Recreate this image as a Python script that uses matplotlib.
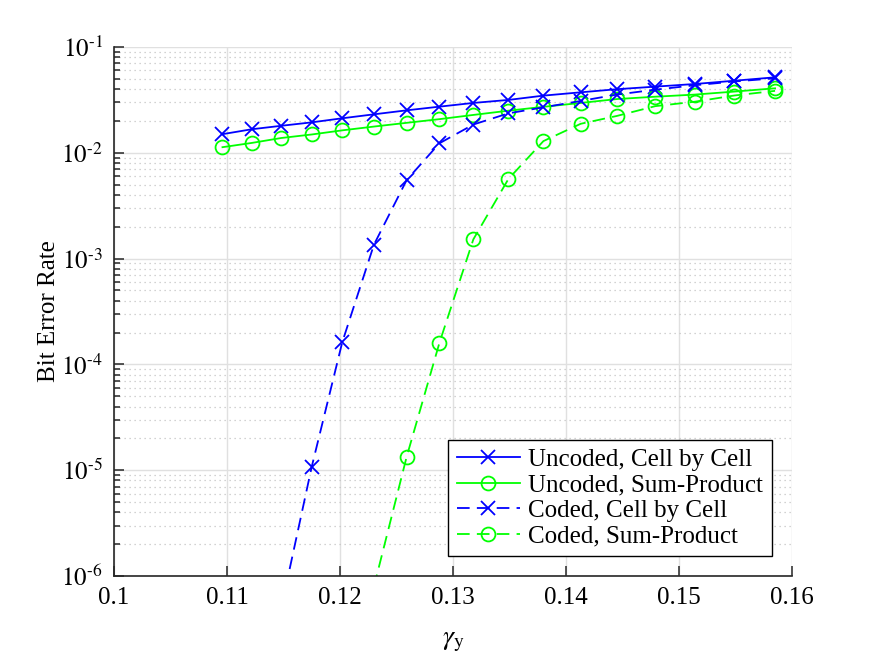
import matplotlib
matplotlib.use("Agg")
import matplotlib.pyplot as plt
from matplotlib.ticker import FuncFormatter
import numpy as np

plt.rcParams['font.family'] = ['Liberation Serif', 'DejaVu Serif']
plt.rcParams['mathtext.fontset'] = 'stix'
plt.rcParams['axes.unicode_minus'] = False

# gamma_y values (x axis)
gamma_y = [0.1096, 0.1122, 0.1148, 0.1175, 0.1202, 0.1230, 0.1259, 0.1288, 0.1318,
           0.1349, 0.1380, 0.1413, 0.1445, 0.1479, 0.1514, 0.1549, 0.1585]

# bit error rates (nan = below plotted range / not shown)
uncoded_cbc = [0.0150, 0.0167, 0.0180, 0.0194, 0.0212, 0.0231, 0.0252, 0.0273, 0.0296,
               0.0316, 0.0347, 0.0373, 0.0399, 0.0422, 0.0447, 0.0480, 0.0517]
uncoded_sp = [0.0113, 0.0124, 0.0138, 0.0149, 0.0163, 0.0177, 0.0192, 0.0208, 0.0228,
              0.0250, 0.0272, 0.0296, 0.0322, 0.0339, 0.0355, 0.0379, 0.0407]
coded_cbc = [np.nan, np.nan, 5.0e-7, 1.08e-5, 1.62e-4, 1.35e-3, 5.53e-3, 1.23e-2, 1.85e-2,
             2.36e-2, 2.69e-2, 3.09e-2, 3.55e-2, 3.95e-2, 4.35e-2, 4.72e-2, 5.06e-2]
coded_sp = [np.nan, np.nan, np.nan, np.nan, np.nan, 7.9e-7, 1.34e-5, 1.60e-4, 1.52e-3,
            5.65e-3, 1.29e-2, 1.88e-2, 2.23e-2, 2.76e-2, 3.04e-2, 3.48e-2, 3.85e-2]

labels = ['Uncoded, Cell by Cell', 'Uncoded, Sum-Product',
          'Coded, Cell by Cell', 'Coded, Sum-Product']

fig = plt.figure(figsize=(8.75, 6.57), dpi=100)
ax = fig.add_axes([114 / 875, 1 - 576 / 657, 678 / 875, 529 / 657])

dash = (0, (7, 4))
ax.semilogy(gamma_y, uncoded_cbc, color='#0000ff', ls='-', marker='x', ms=10, mew=1.3, lw=1.3, label=labels[0])
ax.semilogy(gamma_y, uncoded_sp, color='#00ff00', ls='-', marker='o', ms=10, mew=1.3, lw=1.3,
            mfc='none', label=labels[1])
ax.semilogy(gamma_y, coded_cbc, color='#0000ff', ls=dash, marker='x', ms=10, mew=1.3, lw=1.3, label=labels[2])
ax.semilogy(gamma_y, coded_sp, color='#00ff00', ls=dash, marker='o', ms=10, mew=1.3, lw=1.3,
            mfc='none', label=labels[3])

ax.set_xlim(0.1, 0.16)
ax.set_ylim(1e-6, 1e-1)
xt = [0.1, 0.11, 0.12, 0.13, 0.14, 0.15, 0.16]
ax.set_xticks(xt)
ax.set_xticklabels(['%g' % v for v in xt])
ax.yaxis.set_major_formatter(FuncFormatter(
    lambda v, p: r'$10^{\text{-}%d}$' % round(-np.log10(v))))

ax.set_axisbelow(True)
ax.grid(True, which='major', color='#e0e0e0', lw=1.0)
ax.yaxis.grid(True, which='minor', color='#c4c4c4', ls=(0, (1, 3)), lw=0.9)

for s in ['top', 'right']:
    ax.spines[s].set_visible(False)
for s in ['left', 'bottom']:
    ax.spines[s].set_color('#262626')
    ax.spines[s].set_linewidth(1.2)

ax.tick_params(which='both', direction='in', colors='#262626', labelcolor='black', width=1.1)
ax.tick_params(which='major', length=7, labelsize=18, pad=8)
ax.tick_params(which='minor', length=4)
ax.tick_params(axis='x', which='minor', bottom=False)

ax.set_xlabel(r'$\gamma_{\rm y}$', fontsize=20, labelpad=14)
ax.set_ylabel('Bit Error Rate', fontsize=18, labelpad=1)

leg = ax.legend(loc='lower right', fontsize=18, fancybox=False, edgecolor='black',
                framealpha=1, borderaxespad=0.8, handlelength=2.5, handletextpad=0.35,
                labelspacing=0.12, borderpad=0.35)
leg.get_frame().set_linewidth(1.0)

fig.savefig('out.png', dpi=100)
